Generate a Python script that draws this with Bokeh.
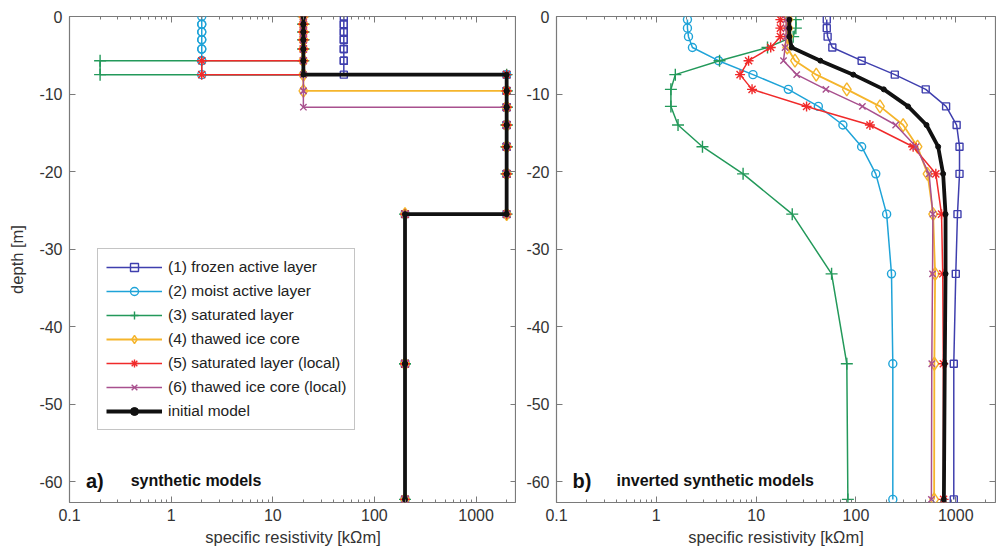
from bokeh.plotting import figure
from bokeh.layouts import row
from bokeh.models import (FixedTicker, CustomJSTickFormatter, LogAxis, LinearAxis,
                          Legend, LegendItem, Label, Range1d)
from bokeh.embed import file_html
from bokeh.resources import INLINE

# ---------------- data ----------------
model_names = ["(1) frozen active layer", "(2) moist active layer", "(3) saturated layer",
               "(4) thawed ice core", "(5) saturated layer (local)",
               "(6) thawed ice core (local)", "initial model"]

# a) synthetic models: layer boundaries [m] and layer resistivities [kOhm m]
syn_bounds = [0.0, -1.0, -2.0, -3.0, -4.2, -5.7, -7.5, -9.6, -11.7, -14.0, -16.8, -20.3, -25.5, -44.8, -62.3]
syn_frozen = [50, 50, 50, 50, 50, 50, 2000, 2000, 2000, 2000, 2000, 2000, 200, 200]
syn_moist = [2, 2, 2, 2, 2, 2, 2000, 2000, 2000, 2000, 2000, 2000, 200, 200]
syn_saturated = [20, 20, 20, 20, 20, 0.2, 2000, 2000, 2000, 2000, 2000, 2000, 200, 200]
syn_thawed = [20, 20, 20, 20, 20, 20, 20, 2000, 2000, 2000, 2000, 2000, 200, 200]
syn_sat_local = [20, 20, 20, 20, 20, 2, 2000, 2000, 2000, 2000, 2000, 2000, 200, 200]
syn_thawed_local = [20, 20, 20, 20, 20, 20, 20, 20, 2000, 2000, 2000, 2000, 200, 200]
syn_initial = [20, 20, 20, 20, 20, 20, 2000, 2000, 2000, 2000, 2000, 2000, 200, 200]

# b) inverted synthetic models: node depths [m] and resistivities [kOhm m]
inv_depth = [-0.4, -1.5, -2.6, -4.0, -5.7, -7.5, -9.4, -11.6, -14.0, -16.8, -20.3, -25.5, -33.2, -44.8, -62.3]
inv_frozen = [51, 51, 52, 58, 114, 245, 500, 800, 1020, 1090, 1090, 1040, 1000, 955, 955]
inv_moist = [2.05, 2.05, 2.1, 2.3, 4.2, 9.3, 21, 42, 74, 114, 158, 203, 227, 234, 234]
inv_saturated = [25, 25, 23.5, 13, 4.3, 1.55, 1.4, 1.4, 1.65, 2.9, 7.4, 23, 57, 81, 83]
inv_thawed = [21, 21, 21, 20.5, 24.5, 40, 81, 174, 297, 414, 521, 593, 621, 610, 607]
inv_sat_local = [17.5, 17.5, 17.5, 14, 8.4, 6.9, 9.1, 32, 138, 374, 631, 720, 740, 750, 755]
inv_thawed_local = [20, 20, 20, 19.5, 18.8, 25.5, 50, 116, 250, 400, 540, 590, 585, 575, 570]
inv_initial = [21.5, 21.5, 21.5, 22.7, 44, 94, 190, 333, 509, 666, 747, 790, 790, 776, 760]

x_ticks = [0.1, 1, 10, 100, 1000]
y_ticks = [-60, -50, -40, -30, -20, -10, 0]

# ---------------- styles ----------------
colors = ["#3f3fae", "#1ea3d8", "#23995a", "#f5b52c", "#f02a2a", "#a8508e", "#111111"]
markers = ["square", "circle", "cross", "diamond", "asterisk", "x", "circle"]
msizes = [7, 8, 12, 13, 10, 9, 5]
lwidths = [1.5, 1.5, 1.5, 1.8, 1.5, 1.5, 3.8]

FONT = "Liberation Sans"
TXT = "#333333"
minor = [m * d for d in [0.1, 1, 10, 100, 1000] for m in range(2, 10) if m * d <= 2500]


def make_fig(width, left, right, ylabel):
    p = figure(width=width, height=550, x_axis_type="log",
               x_range=Range1d(0.1, 2500), y_range=Range1d(-62.7, 0),
               output_backend="svg", toolbar_location=None,
               min_border_left=left, min_border_right=right,
               min_border_top=16, min_border_bottom=48)
    p.xgrid.visible = False
    p.ygrid.visible = False
    p.outline_line_color = "#7a7a7a"
    p.outline_line_width = 1.2
    p.background_fill_color = "white"
    p.border_fill_color = "white"

    xa = p.xaxis[0]
    xa.ticker = FixedTicker(ticks=x_ticks, minor_ticks=minor)
    xa.formatter = CustomJSTickFormatter(code="return String(+tick.toPrecision(3));")
    xa.axis_label = "specific resistivity [k\u03a9m]"
    ya = p.yaxis[0]
    ya.ticker = FixedTicker(ticks=y_ticks, minor_ticks=[])
    ya.formatter = CustomJSTickFormatter(code="return String(Math.round(tick));")
    ya.axis_label = ylabel
    for ax in (xa, ya):
        ax.axis_line_color = None
        ax.major_tick_in = 6
        ax.major_tick_out = 0
        ax.minor_tick_in = 3
        ax.minor_tick_out = 0
        ax.major_tick_line_color = "#7a7a7a"
        ax.minor_tick_line_color = "#7a7a7a"
        ax.major_label_text_font = FONT
        ax.major_label_text_font_size = "16px"
        ax.major_label_text_color = TXT
        ax.axis_label_text_font = FONT
        ax.axis_label_text_font_size = "16.5px"
        ax.axis_label_text_font_style = "normal"
        ax.axis_label_text_color = TXT
    xa.major_label_standoff = 6
    xa.axis_label_standoff = 4
    ya.major_label_standoff = 7
    ya.axis_label_standoff = 10

    top = LogAxis(ticker=FixedTicker(ticks=x_ticks, minor_ticks=minor))
    rgt = LinearAxis(ticker=FixedTicker(ticks=y_ticks, minor_ticks=[]))
    for ax in (top, rgt):
        ax.axis_line_color = None
        ax.major_tick_in = 6
        ax.major_tick_out = 0
        ax.minor_tick_in = 3
        ax.minor_tick_out = 0
        ax.major_tick_line_color = "#7a7a7a"
        ax.minor_tick_line_color = "#7a7a7a"
        ax.major_label_text_font_size = "0px"
        ax.major_label_standoff = 0
        ax.major_label_text_alpha = 0
    p.add_layout(top, "above")
    p.add_layout(rgt, "right")
    return p


def draw(p, xs, ys, i):
    c = colors[i]
    ln = p.line(xs, ys, line_color=c, line_width=lwidths[i])
    fill = c if i == 6 else None
    sc = p.scatter(xs, ys, marker=markers[i], size=msizes[i], line_color=c,
                   line_width=1.4 if i != 6 else 1, fill_color=fill)
    return ln, sc


def stairs(bounds, vals):
    xs, ys = [], []
    for k, v in enumerate(vals):
        xs += [v, v]
        ys += [bounds[k], bounds[k + 1]]
    return xs, ys


p1 = make_fig(516, 69, 0, "depth [m]")
p2 = make_fig(480, 40, 1, "")

syn_models = [syn_frozen, syn_moist, syn_saturated, syn_thawed, syn_sat_local,
              syn_thawed_local, syn_initial]
inv_models = [inv_frozen, inv_moist, inv_saturated, inv_thawed, inv_sat_local,
              inv_thawed_local, inv_initial]

items = []
for i, vals in enumerate(syn_models):
    xs, ys = stairs(syn_bounds, vals)
    ln, sc = draw(p1, xs, ys, i)
    items.append(LegendItem(label=model_names[i], renderers=[ln, sc]))

for i, vals in enumerate(inv_models):
    draw(p2, vals, inv_depth, i)

legend = Legend(items=items, location=(28, 72), glyph_width=56, glyph_height=20,
                label_height=20, spacing=4, padding=8, margin=0, label_standoff=6,
                label_text_font=FONT, label_text_font_size="15.5px", label_text_color="#222222",
                border_line_color="#8a8a8a", border_line_width=1.2,
                background_fill_color="white", background_fill_alpha=1.0)
p1.add_layout(legend)

for p, tag, title in ((p1, "a)", "synthetic models"), (p2, "b)", "inverted synthetic models")):
    p.add_layout(Label(x=0.145, y=-59.9, text=tag, text_font=FONT, text_font_size="20px",
                       text_font_style="bold", text_baseline="middle", text_color="#111111"))
    p.add_layout(Label(x=0.40, y=-59.9, text=title, text_font=FONT, text_font_size="16px",
                       text_font_style="bold", text_baseline="middle", text_color="#111111"))

layout = row(p1, p2)
open("out.html", "w").write(file_html(layout, INLINE))
